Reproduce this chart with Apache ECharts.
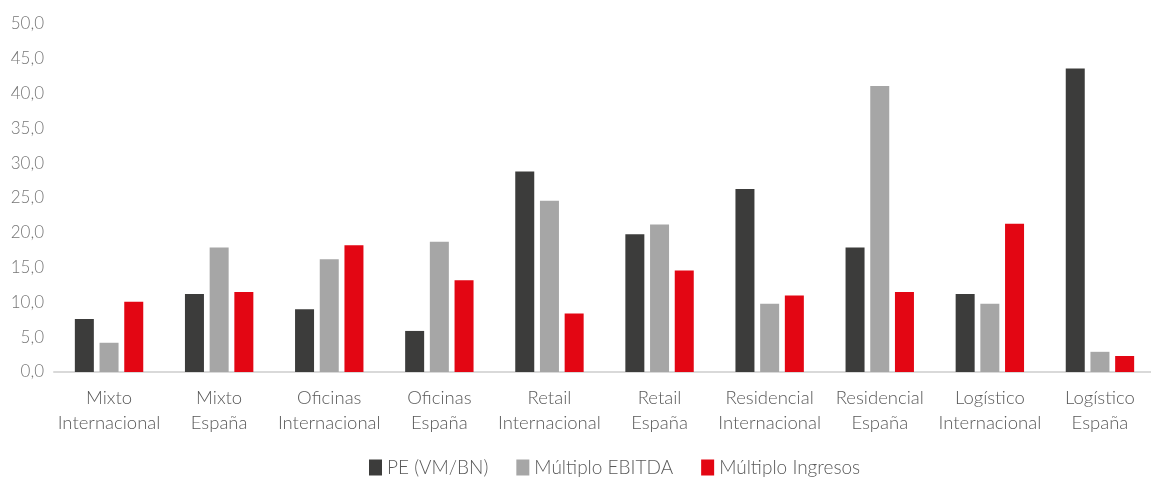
<!DOCTYPE html>
<html><head><meta charset="utf-8">
<script src="https://cdn.jsdelivr.net/npm/echarts@6/dist/echarts.min.js"></script>
<style>html,body{margin:0;padding:0;background:#fff;overflow:hidden}#c{width:1160px;height:480px}</style>
</head><body><div id="c"></div>
<script>
const categories = ["Mixto\nInternacional","Mixto\nEspaña","Oficinas\nInternacional","Oficinas\nEspaña","Retail\nInternacional","Retail\nEspaña","Residencial\nInternacional","Residencial\nEspaña","Logístico\nInternacional","Logístico\nEspaña"];
const seriesNames = ["PE (VM/BN)","Múltiplo EBITDA","Múltiplo Ingresos"];
const peValues = [7.6, 11.2, 9.0, 5.9, 28.8, 19.8, 26.3, 17.9, 11.2, 43.6];
const ebitdaValues = [4.2, 17.9, 16.2, 18.7, 24.6, 21.2, 9.8, 41.1, 9.8, 2.9];
const ingresosValues = [10.1, 11.5, 18.2, 13.2, 8.4, 14.6, 11.0, 11.5, 21.3, 2.3];
const colors = ["#3c3c3b","#a6a6a6","#e30613"];
const font = "Lato, 'Open Sans', sans-serif";
const chart = echarts.init(document.getElementById('c'));
const mk = (name, data, i) => ({
  name, type: 'bar', data, barWidth: 19, barGap: '30%',
  itemStyle: {color: colors[i]}
});
chart.setOption({
  animation: false,
  color: colors,
  grid: {left: 54, top: 24, bottom: 108, width: 1101},
  legend: {
    bottom: -2, left: 364, itemWidth: 13, itemHeight: 16, itemGap: 28,
    icon: 'rect',
    textStyle: {fontFamily: font, fontSize: 19, fontWeight: 300, color: '#595959'},
    data: seriesNames
  },
  xAxis: {
    type: 'category', data: categories,
    axisLine: {lineStyle: {color: '#d9d9d9', width: 2}},
    axisTick: {show: false},
    axisLabel: {interval: 0, fontFamily: font, fontSize: 18.5, fontWeight: 300, color: '#595959', lineHeight: 25, margin: 14}
  },
  yAxis: {
    type: 'value', min: 0, max: 50, interval: 5,
    splitLine: {show: false},
    axisLine: {show: false}, axisTick: {show: false},
    axisLabel: {fontFamily: font, fontSize: 17, fontWeight: 300, color: '#767676', margin: 10,
      formatter: v => v.toFixed(1).replace('.', ',')}
  },
  series: [mk(seriesNames[0], peValues, 0), mk(seriesNames[1], ebitdaValues, 1), mk(seriesNames[2], ingresosValues, 2)]
});
</script></body></html>
